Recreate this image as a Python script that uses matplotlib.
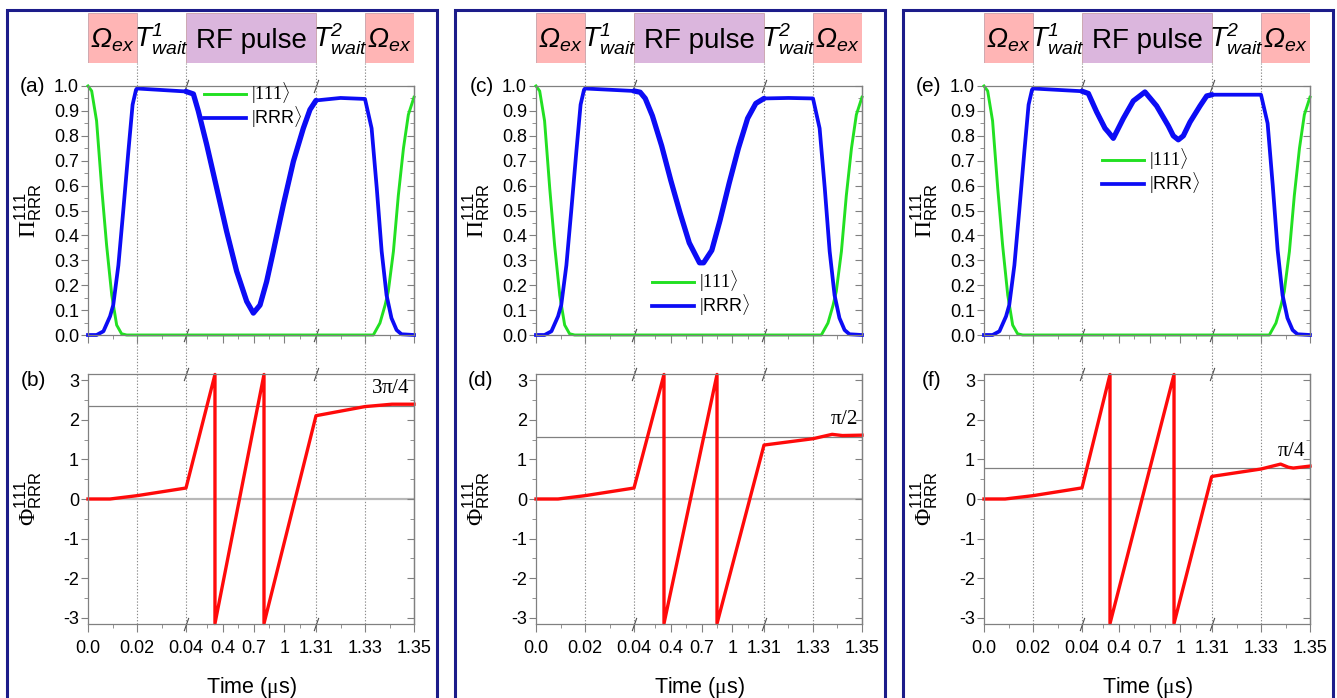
import numpy as np
import matplotlib
matplotlib.use("Agg")
import matplotlib.pyplot as plt
from matplotlib.patches import Rectangle
from matplotlib.lines import Line2D
from matplotlib.ticker import FixedLocator, MultipleLocator

# ---- time axis (broken: 0-0.04 | 0.04-1.31 | 1.31-1.35 us) ----
tick_times = [0.0, 0.02, 0.04, 0.4, 0.7, 1.0, 1.31, 1.33, 1.35]
tick_labels = ["0.0", "0.02", "0.04", "0.4", "0.7", "1", "1.31", "1.33", "1.35"]
minor_times = [0.01, 0.03, 0.25, 0.55, 0.85, 1.15, 1.32, 1.34]
break_times = [0.04, 1.31]
stage_edges = [0.0, 0.02, 0.04, 1.31, 1.33, 1.35]

# ---- populations: |111> (same in every run) ----
t_111 = [0.0, 0.0015, 0.0035, 0.0056, 0.0076, 0.0097, 0.0117, 0.0137, 0.0158,
         1.3334, 1.3361, 1.3382, 1.3395, 1.3416, 1.3436, 1.3457, 1.3477, 1.35]
p_111 = [1.0, 0.98, 0.86, 0.59, 0.36, 0.16, 0.04, 0.005, 0.0,
         0.0, 0.048, 0.12, 0.175, 0.336, 0.56, 0.75, 0.885, 0.955]

# ---- populations: |RRR> for the three RF pulses ----
t_rrr_a = [0.0, 0.0035, 0.0063, 0.009, 0.0103, 0.0124, 0.0144, 0.0165, 0.0182, 0.0196, 0.02,
           0.04, 0.112, 0.16, 0.242, 0.34, 0.437, 0.535, 0.633, 0.698, 0.763, 0.828, 0.893,
           0.991, 1.089, 1.186, 1.251, 1.31, 1.32, 1.33,
           1.3327, 1.3348, 1.3368, 1.3388, 1.3408, 1.3429, 1.3449, 1.35]
p_rrr_a = [0.0, 0.0, 0.015, 0.075, 0.12, 0.28, 0.50, 0.74, 0.925, 0.985, 0.99,
           0.978, 0.968, 0.90, 0.765, 0.59, 0.416, 0.256, 0.135, 0.088, 0.12, 0.215, 0.336,
           0.523, 0.697, 0.83, 0.905, 0.942, 0.952, 0.948,
           0.83, 0.59, 0.336, 0.16, 0.068, 0.02, 0.003, 0.0]

t_rrr_c = [0.0, 0.0035, 0.0063, 0.009, 0.0103, 0.0124, 0.0144, 0.0165, 0.0182, 0.0196, 0.02,
           0.04, 0.10, 0.15, 0.22, 0.31, 0.40, 0.49, 0.58, 0.68, 0.72, 0.80, 0.88,
           0.97, 1.06, 1.15, 1.23, 1.31, 1.32, 1.33,
           1.3327, 1.3348, 1.3368, 1.3388, 1.3408, 1.3429, 1.3449, 1.35]
p_rrr_c = [0.0, 0.0, 0.015, 0.075, 0.12, 0.28, 0.50, 0.74, 0.925, 0.985, 0.99,
           0.98, 0.975, 0.95, 0.88, 0.76, 0.62, 0.49, 0.37, 0.29, 0.29, 0.34, 0.46,
           0.61, 0.75, 0.87, 0.93, 0.95, 0.952, 0.95,
           0.83, 0.59, 0.336, 0.16, 0.068, 0.02, 0.003, 0.0]

t_rrr_e = [0.0, 0.0035, 0.0063, 0.009, 0.0103, 0.0124, 0.0144, 0.0165, 0.0182, 0.0196, 0.02,
           0.04, 0.102, 0.183, 0.265, 0.297, 0.346, 0.395, 0.444, 0.541, 0.655, 0.769, 0.883,
           0.932, 0.981, 1.03, 1.095, 1.193, 1.258, 1.31, 1.32, 1.33,
           1.3327, 1.3348, 1.3368, 1.3388, 1.3408, 1.3429, 1.3449, 1.35]
p_rrr_e = [0.0, 0.0, 0.015, 0.075, 0.12, 0.28, 0.50, 0.74, 0.925, 0.985, 0.99,
           0.979, 0.97, 0.896, 0.83, 0.815, 0.79, 0.83, 0.87, 0.94, 0.976, 0.92, 0.84,
           0.80, 0.784, 0.80, 0.855, 0.92, 0.96, 0.965, 0.965, 0.965,
           0.85, 0.60, 0.34, 0.16, 0.068, 0.02, 0.003, 0.0]

# ---- phases ----
t_phi_b = [0.0, 0.009, 0.02, 0.04, 0.323, 0.323, 0.802, 0.802, 1.31, 1.33, 1.341, 1.35]
phi_b = [0.0, 0.0, 0.084, 0.277, 3.14, -3.14, 3.14, -3.14, 2.10, 2.33, 2.39, 2.39]

t_phi_d = [0.0, 0.009, 0.02, 0.04, 0.333, 0.333, 0.851, 0.851, 1.31, 1.33, 1.3378, 1.342, 1.35]
phi_d = [0.0, 0.0, 0.084, 0.277, 3.14, -3.14, 3.14, -3.14, 1.36, 1.52, 1.63, 1.60, 1.61]

t_phi_f = [0.0, 0.0086, 0.02, 0.04, 0.3135, 0.3135, 0.939, 0.939, 1.305, 1.31, 1.33,
           1.338, 1.3412, 1.3432, 1.35]
phi_f = [0.0, 0.0, 0.084, 0.28, 3.14, -3.14, 3.14, -3.14, 0.55, 0.57, 0.756,
         0.88, 0.80, 0.78, 0.83]

final_phase = [3 * np.pi / 4, np.pi / 2, np.pi / 4]
final_phase_text = [r"$\mathrm{3\pi/4}$", r"$\mathrm{\pi/2}$", r"$\mathrm{\pi/4}$"]

panels = [
    dict(rrr=(t_rrr_a, p_rrr_a), phi=(t_phi_b, phi_b), tags=("(a)", "(b)"), leg=(0.335, 1.05)),
    dict(rrr=(t_rrr_c, p_rrr_c), phi=(t_phi_d, phi_d), tags=("(c)", "(d)"), leg=(0.335, 0.295)),
    dict(rrr=(t_rrr_e, p_rrr_e), phi=(t_phi_f, phi_f), tags=("(e)", "(f)"), leg=(0.34, 0.785)),
]

# broken axis drawn as a piecewise-linear scale
seg_t = [0.0, 0.04, 1.31, 1.35]
seg_x = [0.0, 98.0, 228.0, 326.0]


def fwd(t):
    return np.interp(t, seg_t, seg_x)


def inv(x):
    return np.interp(x, seg_x, seg_t)


plt.rcParams.update({
    "font.family": "Liberation Sans",
    "mathtext.fontset": "custom",
    "mathtext.rm": "Liberation Serif",
    "mathtext.sf": "Liberation Sans",
    "mathtext.it": "Liberation Sans:italic",
    "mathtext.bf": "Liberation Sans:italic",
})

W, H = 1337, 698
fig = plt.figure(figsize=(W / 100, H / 100), dpi=100)


def px_box(x0, y0, x1, y1):
    return [x0 / W, 1 - y1 / H, (x1 - x0) / W, (y1 - y0) / H]


GREEN = "#22e022"
BLUE = "#0c0cf5"
RED = "#ff0a0a"
PINK = "#ffb5b5"
LILAC = "#dbb6dd"
GRID = "0.5"

stage_text = [r"$\mathbf{\Omega}_{\mathbf{ex}}$", r"$\mathbf{T}^{\mathbf{1}}_{\mathbf{wait}}$",
              "RF pulse", r"$\mathbf{T}^{\mathbf{2}}_{\mathbf{wait}}$", r"$\mathbf{\Omega}_{\mathbf{ex}}$"]
stage_fill = [PINK, None, LILAC, None, PINK]


def style_axis(ax):
    ax.set_xscale("function", functions=(fwd, inv))
    ax.set_xlim(0, 1.35)
    ax.set_facecolor("none")
    ax.xaxis.set_major_locator(FixedLocator(tick_times))
    ax.xaxis.set_minor_locator(FixedLocator(minor_times))
    ax.set_xticklabels(tick_labels)
    for s in ax.spines.values():
        s.set_color(GRID)
        s.set_linewidth(0.9)
    ax.tick_params(which="both", direction="out", color=GRID, labelsize=13, pad=1.5)
    ax.tick_params(which="major", length=5)
    ax.tick_params(which="minor", length=3)
    ax.tick_params(axis="x", which="major", length=5.5, pad=6.5)
    # break marks on the time axis
    for yy in (0, 1):
        ax.plot(break_times, [yy, yy], ls="none", marker=[(-0.35, -1), (0.35, 1)],
                ms=9.5, mec="0.3", mew=0.8, transform=ax.get_xaxis_transform(), clip_on=False)


def right_ticks(ax, major, minor):
    sec = ax.secondary_yaxis("right")
    sec.set_yticks(major)
    sec.yaxis.set_minor_locator(MultipleLocator(minor))
    sec.tick_params(which="both", direction="in", labelright=False, color=GRID)
    sec.tick_params(which="major", length=5)
    sec.tick_params(which="minor", length=3)
    sec.spines["right"].set_color(GRID)
    sec.spines["right"].set_linewidth(0.9)


line_axes = []
for k, pan in enumerate(panels):
    dx = 448 * k

    # frame around each run
    fig.add_artist(Rectangle(((7 + dx) / W, -0.05), 430 / W, 1.05 - 10 / H,
                             transform=fig.transFigure, fill=False, ec="#1c1c8a", lw=2.2))

    # pulse sequence header
    ax_h = fig.add_axes(px_box(88 + dx, 13, 414 + dx, 63))
    ax_h.set_xscale("function", functions=(fwd, inv))
    ax_h.set_xlim(0, 1.35)
    ax_h.set_ylim(0, 1)
    ax_h.axis("off")
    for i, txt in enumerate(stage_text):
        a, b = stage_edges[i], stage_edges[i + 1]
        if stage_fill[i]:
            ax_h.axvspan(a, b, fc=stage_fill[i], ec="#c8a0a8", lw=0.6)
        mid = inv((fwd(a) + fwd(b)) / 2)
        ax_h.text(mid, 0.31, txt, ha="center", va="baseline", fontsize=20)

    # populations
    ax_p = fig.add_axes(px_box(88 + dx, 86, 414 + dx, 335))
    style_axis(ax_p)
    t_r, p_r = pan["rrr"]
    ax_p.plot(t_111, p_111, color=GREEN, lw=2.1, clip_on=False, label=r"$|\mathrm{111}\rangle$")
    ax_p.plot(t_r, p_r, color=BLUE, lw=2.7, clip_on=False, label=r"$|\mathsf{RRR}\rangle$")
    t_arr, p_arr = np.array(t_r), np.array(p_r)
    rf = (t_arr >= 0.04) & (t_arr <= 1.31)
    ax_p.plot(t_arr[rf], p_arr[rf], color=BLUE, lw=3.8, solid_capstyle="round")
    ax_p.set_ylim(0, 1)
    ax_p.set_yticks(np.arange(0, 1.01, 0.1))
    ax_p.set_yticklabels([f"{v:.1f}" for v in np.arange(0, 1.01, 0.1)])
    ax_p.yaxis.set_minor_locator(MultipleLocator(0.05))
    ax_p.tick_params(labelbottom=False)
    right_ticks(ax_p, np.arange(0, 1.01, 0.1), 0.05)
    ax_p.set_ylabel(r"$\Pi^{\mathsf{111}}_{\mathsf{RRR}}$", fontsize=17)
    ax_p.yaxis.set_label_coords(-0.135, 0.5)
    ax_p.legend(loc="upper left", bbox_to_anchor=pan["leg"], frameon=False, fontsize=13,
                handlelength=2.3, handletextpad=0.3, labelspacing=-0.1, borderaxespad=0)
    ax_p.annotate(pan["tags"][0], xy=(0, 1), xycoords=("axes fraction", "data"),
                  xytext=(-30.5, 0), textcoords="offset points", ha="right", va="center",
                  fontsize=15)

    # phases
    ax_f = fig.add_axes(px_box(88 + dx, 374.4, 414 + dx, 623.6))
    style_axis(ax_f)
    ax_f.axhline(0, color="0.72", lw=1.6, zorder=0)
    ax_f.axhline(final_phase[k], color="0.5", lw=0.9, zorder=0)
    t_f, phi = pan["phi"]
    ax_f.plot(t_f, phi, color=RED, lw=2.4, clip_on=False)
    ax_f.annotate(final_phase_text[k], xy=(1.35, final_phase[k]), xytext=(-3, 6),
                  textcoords="offset points", ha="right", va="bottom", fontsize=15)
    ax_f.set_ylim(-np.pi, np.pi)
    ax_f.set_yticks(range(-3, 4))
    ax_f.set_yticklabels([str(v) for v in range(-3, 4)])
    ax_f.yaxis.set_minor_locator(MultipleLocator(0.5))
    right_ticks(ax_f, list(range(-3, 4)), 0.5)
    ax_f.set_ylabel(r"$\Phi^{\mathsf{111}}_{\mathsf{RRR}}$", fontsize=17)
    ax_f.yaxis.set_label_coords(-0.135, 0.5)
    ax_f.set_xlabel(r"Time ($\mathrm{\mu}$s)", fontsize=15.5, labelpad=13)
    ax_f.annotate(pan["tags"][1], xy=(0, 3), xycoords=("axes fraction", "data"),
                  xytext=(-30.5, 0), textcoords="offset points", ha="right", va="center",
                  fontsize=15)

    line_axes.append(ax_p)

# dotted guides at the stage boundaries, running from the header to the phase axis
y_top = 1 - 63 / H
y_bot = 1 - 623.6 / H
to_fig = fig.transFigure.inverted()
for ax in line_axes:
    for t in [0.02, 0.04, 1.31, 1.33]:
        xf = to_fig.transform(ax.transData.transform((t, 0.5)))[0]
        fig.add_artist(Line2D([xf, xf], [y_bot, y_top], transform=fig.transFigure,
                              ls=(0, (1.2, 1.6)), color="0.55", lw=0.8, zorder=-1))

fig.savefig("out.png", dpi=100)
